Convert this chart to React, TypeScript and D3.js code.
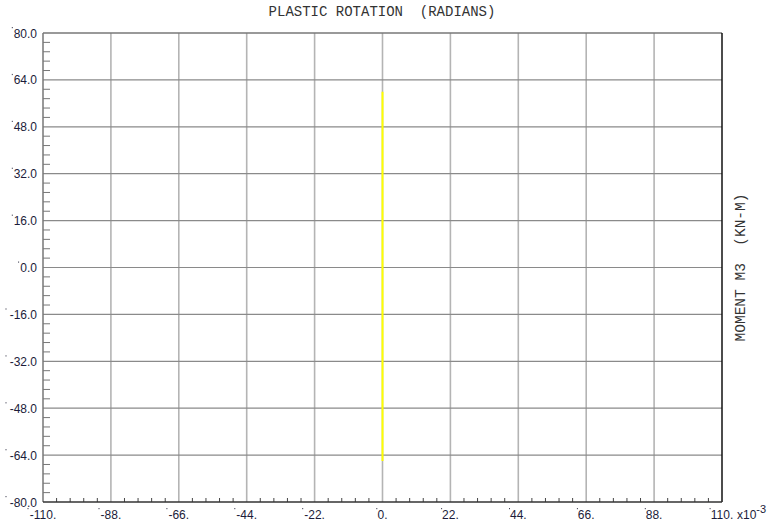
import React from "react";
import * as d3 from "d3";

const xTicks = [-110, -88, -66, -44, -22, 0, 22, 44, 66, 88, 110];
const xTickLabels = ["-110.", "-88.", "-66.", "-44.", "-22.", "0.", "22.", "44.", "66.", "88.", "110."];
const yTicks = [80, 64, 48, 32, 16, 0, -16, -32, -48, -64, -80];
const yTickLabels = ["80.0", "64.0", "48.0", "32.0", "16.0", "0.0", "-16.0", "-32.0", "-48.0", "-64.0", "-80.0"];
const seriesX = [0, 0];
const seriesY = [60, -66];

const W = 767, H = 526;
const L = 43, R = 722, T = 33, B = 502;

export default function App() {
  const x = d3.scaleLinear().domain([-110, 110]).range([L, R]);
  const y = d3.scaleLinear().domain([-80, 80]).range([B, T]);
  const line = d3.line<number>().x((_, i) => x(seriesX[i])).y((d) => y(d));
  const minorX: number[] = [];
  for (let i = 0; i < xTicks.length - 1; i++) {
    for (let k = 1; k < 5; k++) minorX.push(xTicks[i] + (k * 22) / 5);
  }
  const minorY: number[] = [];
  for (let i = 0; i < yTicks.length - 1; i++) {
    for (let k = 1; k < 5; k++) minorY.push(yTicks[i] - (k * 16) / 5);
  }
  const labelFont = "Liberation Sans, Arial, sans-serif";
  const monoFont = "Liberation Mono, DejaVu Sans Mono, monospace";
  const fs = 12;
  return (
    <svg width={W} height={H} style={{ position: "absolute", left: 0, top: 0, background: "#fff" }}>
      <rect x={0} y={0} width={W} height={H} fill="#fff" />
      {xTicks.slice(1, -1).map((t) => (
        <line key={"vx" + t} x1={x(t)} x2={x(t)} y1={T} y2={B} stroke="#b4b4b4" strokeWidth={1.6} />
      ))}
      {yTicks.slice(1, -1).map((t) => (
        <line key={"hy" + t} x1={L} x2={R} y1={y(t)} y2={y(t)} stroke="#8a8a8a" strokeWidth={1.2} />
      ))}
      {minorY.map((t, i) => (
        <line key={"my" + i} x1={L} x2={L + 7} y1={y(t)} y2={y(t)} stroke="#777" strokeWidth={1} />
      ))}
      {minorX.map((t, i) => (
        <line key={"mx" + i} x1={x(t)} x2={x(t)} y1={B} y2={B - 4} stroke="#444" strokeWidth={1} />
      ))}
      <path d={line(seriesY) || ""} stroke="#ffff00" strokeWidth={2} fill="none" />
      <line x1={L} x2={R} y1={T} y2={T} stroke="#777" strokeWidth={1.5} />
      <line x1={L} x2={L} y1={T} y2={B} stroke="#777" strokeWidth={1.5} />
      <line x1={R} x2={R} y1={T} y2={B} stroke="#111" strokeWidth={1.5} />
      <line x1={L} x2={R} y1={B} y2={B} stroke="#333" strokeWidth={1.5} />
      {yTicks.map((t, i) => (
        <g key={"yl" + t}>
          <text x={37} y={y(t) + 4.5} textAnchor="end" fontFamily={labelFont} fontSize={fs} fill="#1c1c3a">
            {yTickLabels[i]}
          </text>
          <rect x={37 - yTickLabels[i].length * 6.3} y={y(t) - 6} width={1} height={1.2} fill="#445" />
        </g>
      ))}
      {xTicks.map((t, i) => (
        <g key={"xl" + t}>
          <text x={x(t)} y={519} textAnchor="middle" fontFamily={labelFont} fontSize={fs} fill="#1c1c3a">
            {xTickLabels[i]}
          </text>
          <rect x={x(t) - xTickLabels[i].length * 3.1} y={508} width={1} height={1.2} fill="#445" />
        </g>
      ))}
      <text x={737} y={519} fontFamily={labelFont} fontSize={fs} fill="#1c1c3a">
        x10
        <tspan dy={-6} fontSize={11}>-3</tspan>
      </text>
      <text x={382} y={16} textAnchor="middle" fontFamily={monoFont} fontSize={14} fill="#333" xmlSpace="preserve">
        PLASTIC ROTATION  (RADIANS)
      </text>
      <text
        transform={`translate(745, ${(T + B) / 2}) rotate(-90)`}
        textAnchor="middle"
        fontFamily={monoFont}
        fontSize={14.5}
        fill="#333"
        xmlSpace="preserve"
      >
        MOMENT M3  (KN-M)
      </text>
    </svg>
  );
}
